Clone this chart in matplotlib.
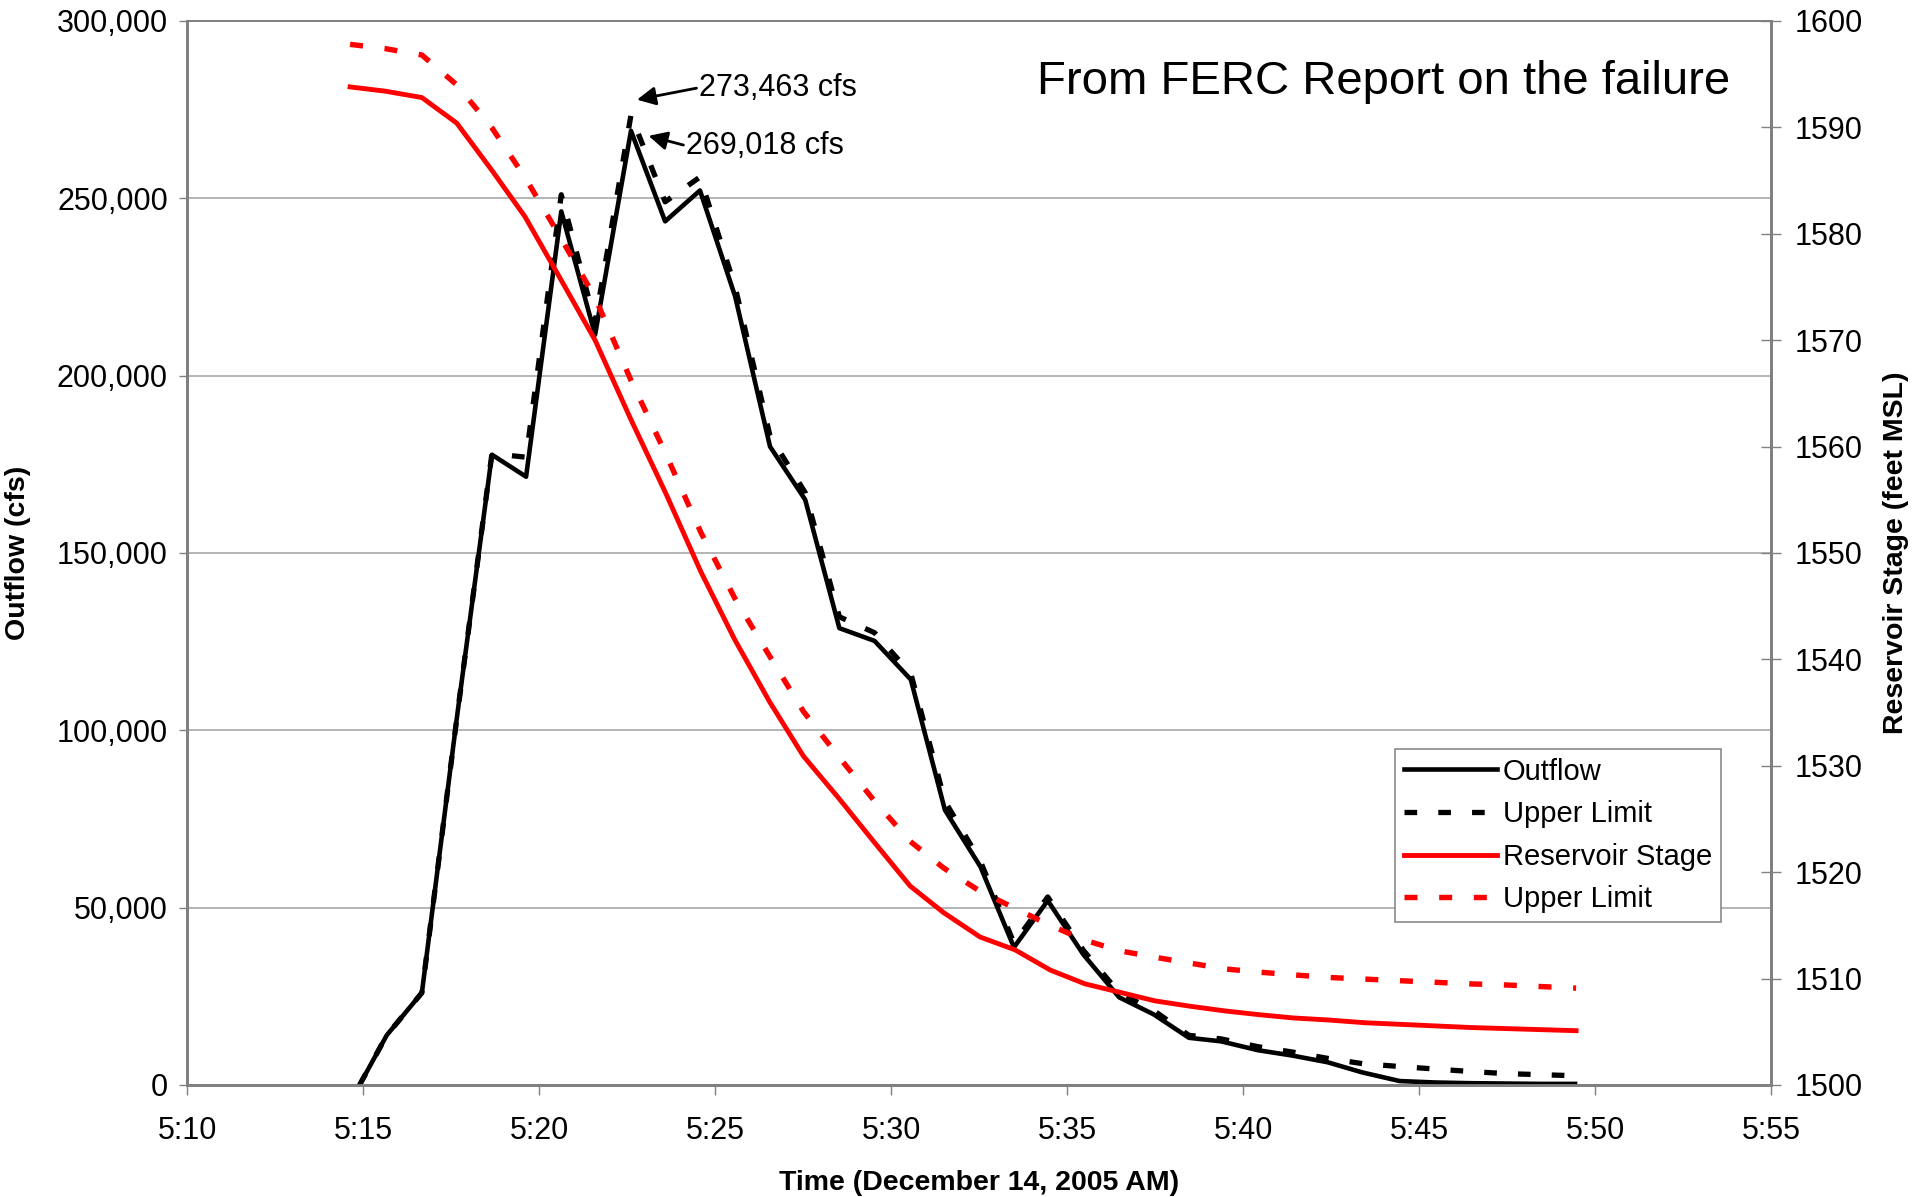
import matplotlib
matplotlib.use("Agg")
import matplotlib.pyplot as plt
from matplotlib.ticker import FuncFormatter

plt.rcParams['font.family'] = ['Liberation Sans', 'DejaVu Sans']

# time axis: minutes after 5:00
x_ticks = [10, 15, 20, 25, 30, 35, 40, 45, 50, 55]
x_tick_labels = ['5:10', '5:15', '5:20', '5:25', '5:30', '5:35', '5:40', '5:45', '5:50', '5:55']

# outflow (cfs)
t_out = [14.90, 15.67, 16.67, 17.67, 18.66, 19.63, 20.63, 21.59, 22.61, 23.58,
         24.57, 25.57, 26.56, 27.56, 28.53, 29.53, 30.56, 31.53, 32.54, 33.49,
         34.45, 35.46, 36.48, 37.46, 38.46, 39.37, 40.42, 41.39, 42.40, 43.40,
         44.45, 45.45, 46.45, 47.45, 48.45, 49.43]
outflow = [0, 14000, 26000, 104000, 177700, 171500, 246300, 211500, 269018, 243500,
           252200, 222300, 180000, 165000, 128800, 125200, 114300, 77500, 61500, 38800,
           52000, 36800, 24700, 19900, 13300, 12300, 9800, 8300, 6400, 3500,
           1100, 700, 500, 400, 300, 300]
outflow_upper = [0, 14000, 26000, 104000, 178000, 177000, 251000, 215000, 273463, 249000,
                 256000, 225000, 183000, 167000, 132000, 127500, 116000, 80000, 63000, 40000,
                 53000, 38000, 26000, 21000, 14000, 13000, 10800, 9300, 7500, 6000,
                 5200, 4500, 3800, 3200, 2900, 2600]

# reservoir stage (feet MSL)
t_stage = [14.63, 15.63, 16.67, 17.66, 18.65, 19.60, 20.60, 21.59, 22.60, 23.60,
           24.60, 25.55, 26.55, 27.51, 28.50, 29.50, 30.54, 31.49, 32.53, 33.52,
           34.52, 35.51, 36.51, 37.50, 38.49, 39.50, 40.47, 41.42, 42.45, 43.45,
           44.45, 45.45, 46.45, 47.45, 48.45, 49.46]
stage = [1593.8, 1593.4, 1592.8, 1590.4, 1586.0, 1581.6, 1575.8, 1570.0, 1562.6, 1555.6,
         1548.2, 1541.9, 1536.0, 1530.9, 1527.0, 1522.9, 1518.7, 1516.2, 1513.9, 1512.7,
         1510.8, 1509.5, 1508.7, 1507.9, 1507.4, 1506.95, 1506.6, 1506.3, 1506.1, 1505.85,
         1505.7, 1505.55, 1505.4, 1505.3, 1505.2, 1505.1]
stage_upper = [1597.8, 1597.4, 1596.8, 1594.0, 1590.0, 1585.3, 1579.7, 1574.0, 1566.3, 1559.3,
               1551.9, 1545.8, 1540.3, 1535.1, 1530.9, 1526.8, 1522.9, 1520.4, 1518.2, 1516.6,
               1515.0, 1513.6, 1512.6, 1512.0, 1511.45, 1510.9, 1510.6, 1510.35, 1510.1, 1509.95,
               1509.8, 1509.65, 1509.5, 1509.4, 1509.25, 1509.1]

fig = plt.figure(figsize=(19.17, 11.97), dpi=100)
ax = fig.add_axes([0.0976, 0.0936, 0.8263, 0.8889])
ax2 = ax.twinx()

gray = '#808080'
dash = (0, (2.4, 4.0))

l1, = ax.plot(t_out, outflow, color='black', lw=3.3, label='Outflow', zorder=3)
l2, = ax.plot(t_out, outflow_upper, color='black', lw=3.8, linestyle=dash,
              dash_capstyle='butt', label='Upper Limit', zorder=3)
l3, = ax2.plot(t_stage, stage, color='#ff0000', lw=3.5, label='Reservoir Stage')
l4, = ax2.plot(t_stage, stage_upper, color='#ff0000', lw=3.9, linestyle=dash,
               dash_capstyle='butt', label='Upper Limit')

ax.set_xlim(10, 55)
ax.set_ylim(0, 300000)
ax2.set_ylim(1500, 1600)
ax.set_xticks(x_ticks)
ax.set_xticklabels(x_tick_labels)
ax.set_yticks(range(0, 300001, 50000))
ax.yaxis.set_major_formatter(FuncFormatter(lambda v, p: f'{v:,.0f}'))
ax2.set_yticks(range(1500, 1601, 10))

ax.grid(axis='y', color='#a0a0a0', lw=1.1)
ax.set_axisbelow(True)

for a in (ax, ax2):
    for s in ('left', 'right', 'bottom'):
        a.spines[s].set_color(gray)
        a.spines[s].set_linewidth(2.0)
    a.spines['top'].set_color(gray)
    a.spines['top'].set_linewidth(1.3)

ax.tick_params(axis='y', direction='out', length=5.8, width=1, color=gray,
               labelsize=22, pad=8)
ax.tick_params(axis='x', direction='out', length=7, width=1, color=gray,
               labelsize=22, pad=15)
ax2.tick_params(axis='y', direction='inout', length=14.4, width=1, color=gray,
                labelsize=22, pad=10)

label_font = dict(fontweight='bold', fontsize=20.5)
ax.set_ylabel('Outflow (cfs)', **label_font)
ax.yaxis.set_label_coords(-0.0985, 0.5)
ax2.set_ylabel('Reservoir Stage (feet MSL)', **label_font)
ax2.yaxis.set_label_coords(1.0707, 0.5)
ax.set_xlabel('Time (December 14, 2005 AM)', **label_font)
ax.xaxis.set_label_coords(0.5, -0.08)

ax.text(0.974, 0.943, 'From FERC Report on the failure', transform=ax.transAxes,
        ha='right', va='center', fontsize=34)

arrow = dict(arrowstyle='-|>', color='black', lw=2, mutation_scale=28,
             shrinkA=0, shrinkB=0, relpos=(0, 0.5))
ax.annotate('273,463 cfs', xy=(22.78, 277800), xytext=(24.55, 281200),
            ha='left', va='center', fontsize=22, arrowprops=arrow, zorder=5)
ax.annotate('269,018 cfs', xy=(23.11, 267600), xytext=(24.18, 264800),
            ha='left', va='center', fontsize=22, arrowprops=arrow, zorder=5)

leg = ax2.legend(handles=[l1, l2, l3, l4], loc='upper left',
                 bbox_to_anchor=(0.7626, 0.3158), fontsize=21, frameon=True,
                 fancybox=False, edgecolor=gray, framealpha=1,
                 handlelength=3.2, handletextpad=0.2, labelspacing=0.5,
                 borderpad=0.3, borderaxespad=0)
leg.get_frame().set_linewidth(1.1)

fig.savefig('out.png', dpi=100)
